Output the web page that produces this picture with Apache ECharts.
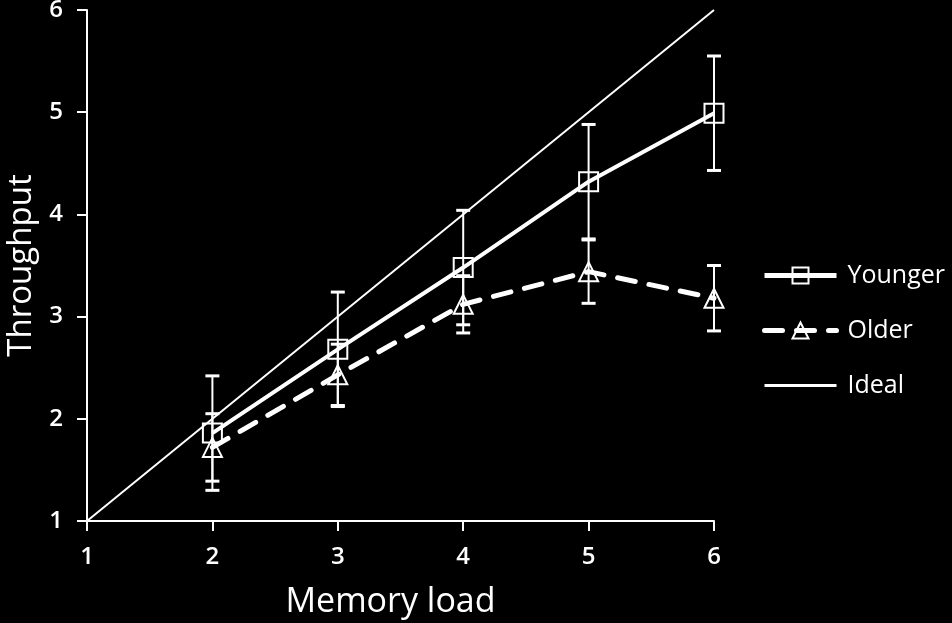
<!DOCTYPE html>
<html><head><meta charset="utf-8">
<script src="https://cdn.jsdelivr.net/npm/echarts@6/dist/echarts.min.js"></script>
<style>html,body{margin:0;padding:0;background:#000}#c{width:952px;height:623px}</style>
</head><body><div id="c"></div>
<script>
const loads = [2, 3, 4, 5, 6];
const youngerMean = [1.86, 2.68, 3.48, 4.32, 4.99];
const youngerErr = [0.56, 0.56, 0.56, 0.56, 0.56];
const olderMean = [1.72, 2.43, 3.12, 3.44, 3.18];
const olderErr = [0.33, 0.30, 0.28, 0.31, 0.32];
const idealX = [1, 6];
const idealY = [1, 6];
const xTicks = [1, 2, 3, 4, 5, 6];

const FONT = '"Open Sans", Lato, sans-serif';
function pairs(xs, ys){ return xs.map((x,i)=>[x, ys[i]]); }
function errData(xs, m, e){ return xs.map((x,i)=>[x, m[i]-e[i], m[i]+e[i]]); }
function errSeries(data){
  return {
    type: 'custom', silent: true, z: 1,
    data: data,
    encode: {x: 0, y: [1, 2]},
    renderItem: function(params, api){
      const x = api.value(0);
      const lo = api.coord([x, api.value(1)]);
      const hi = api.coord([x, api.value(2)]);
      const hw = 7;
      const st = {stroke: '#fff', lineWidth: 2};
      const cap = {stroke: '#fff', lineWidth: 3};
      return {type: 'group', children: [
        {type: 'line', shape: {x1: lo[0], y1: lo[1], x2: hi[0], y2: hi[1]}, style: st},
        {type: 'line', shape: {x1: lo[0]-hw, y1: lo[1], x2: lo[0]+hw, y2: lo[1]}, style: cap},
        {type: 'line', shape: {x1: hi[0]-hw, y1: hi[1], x2: hi[0]+hw, y2: hi[1]}, style: cap}
      ]};
    }
  };
}
const chart = echarts.init(document.getElementById('c'));
chart.setOption({
  backgroundColor: '#000',
  animation: false,
  textStyle: {fontFamily: FONT, color: '#fff'},
  grid: {left: 87, right: 238, top: 10, bottom: 102, containLabel: false, outerBoundsMode: 'none'},
  xAxis: {
    type: 'value', min: xTicks[0], max: xTicks[xTicks.length-1], interval: 1,
    name: 'Memory load', nameLocation: 'middle', nameGap: 64,
    nameTextStyle: {color: '#fff', fontSize: 34, fontFamily: FONT, padding: [0, 20, 0, 0]},
    axisLine: {lineStyle: {color: '#fff', width: 2}},
    axisTick: {length: 10, lineStyle: {color: '#fff', width: 2}},
    axisLabel: {color: '#fff', fontSize: 24, fontWeight: 600, margin: 24, fontFamily: FONT},
    splitLine: {show: false}
  },
  yAxis: {
    type: 'value', min: 1, max: 6, interval: 1,
    name: 'Throughput', nameLocation: 'middle', nameGap: 48, nameRotate: 90,
    nameTextStyle: {color: '#fff', fontSize: 33, fontFamily: FONT},
    axisLine: {show: true, lineStyle: {color: '#fff', width: 2}},
    axisTick: {show: true, length: 10, lineStyle: {color: '#fff', width: 2}},
    axisLabel: {color: '#fff', fontSize: 24, fontWeight: 600, margin: 24, fontFamily: FONT},
    splitLine: {show: false}
  },
  legend: {
    orient: 'vertical', left: 762, top: 263, padding: 0, itemWidth: 72, itemHeight: 20, itemGap: 30,
    textStyle: {color: '#fff', fontSize: 25, fontFamily: FONT, padding: [0,0,0,6]},
    data: [
      {name: 'Younger', lineStyle: {width: 5}},
      {name: 'Older', lineStyle: {width: 5}},
      {name: 'Ideal', lineStyle: {width: 3}, itemStyle: {opacity: 0}}
    ]
  },
  series: [
    errSeries(errData(loads, olderMean, olderErr)),
    errSeries(errData(loads, youngerMean, youngerErr)),
    {
      name: 'Ideal', type: 'line', data: pairs(idealX, idealY), symbol: 'none', z: 2,
      lineStyle: {color: '#fff', width: 2}, itemStyle: {color: '#fff'}
    },
    {
      name: 'Younger', type: 'line', data: pairs(loads, youngerMean), z: 3,
      symbol: 'rect', symbolSize: 19,
      lineStyle: {color: '#fff', width: 4},
      itemStyle: {color: 'rgba(0,0,0,0)', borderColor: '#fff', borderWidth: 2}
    },
    {
      name: 'Older', type: 'line', data: pairs(loads, olderMean), z: 3,
      symbol: 'triangle', symbolSize: 19,
      lineStyle: {color: '#fff', width: 5, type: [18, 14], cap: 'round'},
      itemStyle: {color: 'rgba(0,0,0,0)', borderColor: '#fff', borderWidth: 2}
    }
  ]
});
</script></body></html>
